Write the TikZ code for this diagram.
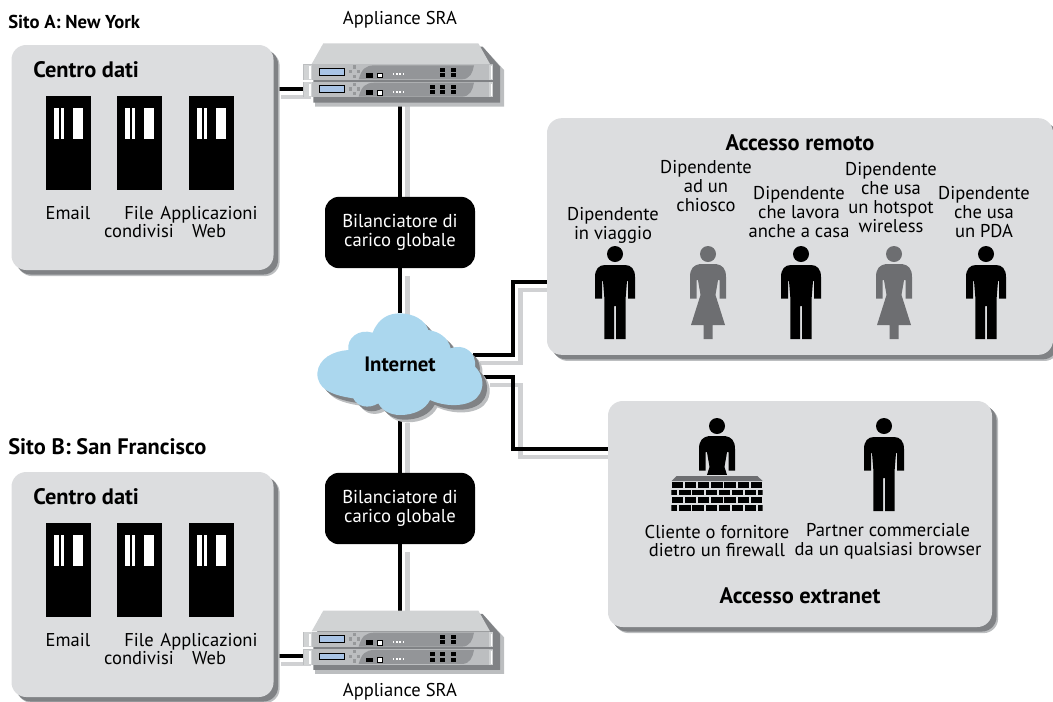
\documentclass[tikz,border=0pt]{standalone}
\usepackage{fontspec}
\setmainfont{PT Sans}
\usetikzlibrary{shadows}
\pgfdeclarelayer{bg}
\pgfsetlayers{bg,main}
\definecolor{panelgray}{HTML}{DCDDDF}
\definecolor{shadowgray}{HTML}{808285}
\definecolor{softgray}{HTML}{BCBEC0}
\definecolor{womangray}{HTML}{6D6E71}
\definecolor{cloudblue}{HTML}{ABD7EE}
\definecolor{lcdblue}{HTML}{A9C4E6}
\definecolor{unitgray}{HTML}{BCBEC0}
\definecolor{unitdark}{HTML}{939598}
\definecolor{topgray}{HTML}{D1D3D4}
\tikzset{
  softshadow/.style={general shadow={shadow xshift=4.6pt,shadow yshift=-4.6pt,fill=softgray},
    general shadow={shadow xshift=3.4pt,shadow yshift=-3.4pt,fill=shadowgray}},
  panel/.style={fill=panelgray,rounded corners=11pt,softshadow,inner sep=0pt},
  rack/.style={fill=black,minimum width=33.75pt,minimum height=70.5pt,inner sep=0pt},
  balancer/.style={fill=black,text=white,rounded corners=10.5pt,minimum width=112.5pt,minimum height=53.5pt,inner sep=0pt,align=center,font=\fontsize{14}{14.6}\selectfont},
  label/.style={align=center,inner sep=0pt,font=\fontsize{13.9}{14.1}\selectfont},
  heading/.style={inner sep=0pt,font=\fontsize{16.8}{18}\selectfont\bfseries},
  sitehead/.style={inner sep=0pt,anchor=west,font=\fontsize{14}{16}\selectfont\bfseries},
  ghost/.style={inner sep=0pt},
  wire/.style={draw=black,line width=2.6pt,line join=miter},
  wireshadow/.style={draw=softgray,line width=3.6pt,line join=miter,opacity=.7},
}
\newcommand{\rackbars}[2]{%
  \fill[white] (#1+8,#2+12) rectangle +(5.2,31);
  \fill[white] (#1+14.6,#2+12) rectangle +(3.6,31);
  \fill[white] (#1+27,#2+12) rectangle +(10,31);
}
\newcommand{\personman}[3]{%
  \begin{scope}[shift={(#1,#2)}]
    \fill[#3] (0,-11) circle[radius=6pt];
    \fill[#3] (-10,0) .. controls (-16,0) and (-20,4) .. (-20,12) -- (-20,33.5) -- (-13,33.5) -- (-13,16) -- (-12,16) -- (-10.6,33.5) -- (-10.6,74) -- (-1,74) -- (-1,41) -- (1,41) -- (1,74) -- (10.6,74) -- (10.6,33.5) -- (12,16) -- (13,16) -- (13,33.5) -- (20,33.5) -- (20,12) .. controls (20,4) and (16,0) .. (10,0) -- cycle;
  \end{scope}}
\newcommand{\personwoman}[3]{%
  \begin{scope}[shift={(#1,#2)}]
    \fill[#3] (0,-11) circle[radius=6pt];
    \fill[#3] (-8,-1) .. controls (-14,0) and (-18,3) .. (-18,12) -- (-18,33.5) -- (-11.5,33.5) -- (-11.5,15) -- (-10,15) .. controls (-9,22) and (-8,26) .. (-7.5,30) -- (-17,60) -- (-4.5,60) -- (-4.5,74) -- (4.5,74) -- (4.5,60) -- (17,60) -- (7.5,30) .. controls (8,26) and (9,22) .. (10,15) -- (11.5,15) -- (11.5,33.5) -- (18,33.5) -- (18,12) .. controls (18,3) and (14,0) .. (8,-1) -- cycle;
  \end{scope}}
\newcommand{\unitface}[2]{% y offset in zoom px, #2 = port x positions list
  \fill[unitgray] (70,#1) rectangle (640,#1+47);
  \fill[topgray] (72,#1+2) rectangle (96,#1+47);
  \fill[white] (88,#1+6) rectangle (93,#1+44);
  \fill[topgray] (628,#1+2) rectangle (640,#1+47);
  \fill[white] (632,#1+6) rectangle (635,#1+44);
  \fill[unitdark] (236,#1+45) .. controls (245,#1+15) and (255,#1+3) .. (285,#1+3) -- (582,#1+3) .. controls (578,#1+25) and (570,#1+45) .. (545,#1+45) -- cycle;
  \fill[black] (118,#1+11) rectangle (195,#1+34);
  \fill[lcdblue] (121,#1+14) rectangle (192,#1+31);
  \foreach \dx/\dy in {218/8,206/22,230/22,218/36}{\fill[softgray!80!black] (\dx,#1+\dy-5) rectangle +(10,10);}
  \fill[black] (259,#1+26) rectangle +(19,14);
  \fill[white] (291,#1+26) rectangle +(17,14);
  \draw[black,line width=.5pt] (291,#1+26) rectangle +(17,14);
  \foreach \dx in {#2}{\fill[black] (\dx,#1+10) rectangle +(16,12);\fill[black] (\dx,#1+26) rectangle +(16,12);}
  \foreach \dx in {338,348,358,368}{\fill[white] (\dx,#1+27) rectangle +(5,6);}
}
\newcommand{\rappliance}[1]{%
  \begin{scope}[shift={(280,#1)},x=.25pt,y=-.25pt]
    \fill[softgray] (130,85) -- (612,85) -- (672,150) -- (672,260) -- (105,260) -- (105,180) -- cycle;
    \fill[shadowgray] (125,80) -- (608,80) -- (660,140) -- (660,248) -- (100,248) -- (100,180) -- cycle;
    \fill[topgray] (130,70) -- (595,70) -- (630,132) -- (95,132) -- cycle;
    \unitface{133}{480,512}
    \unitface{185}{450,480,512}
  \end{scope}}
\newcommand{\cloudpath}{(160,385) .. controls (90,375) and (52,355) .. (52,310) .. controls (55,265) and (100,243) .. (145,240) .. controls (140,205) and (175,175) .. (218,188) .. controls (235,145) and (265,130) .. (300,130) .. controls (340,130) and (375,150) .. (385,180) .. controls (420,185) and (445,205) .. (452,235) .. controls (490,220) and (530,245) .. (525,290) .. controls (545,310) and (555,340) .. (540,370) .. controls (520,410) and (445,415) .. (390,390) .. controls (375,420) and (340,435) .. (300,435) .. controls (270,435) and (245,420) .. (235,400) .. controls (205,418) and (172,410) .. (160,385) -- cycle}
\begin{document}
\begin{tikzpicture}[x=.75pt,y=-.75pt]
\useasboundingbox (0,0) rectangle (1053,701);
\clip (0,0) rectangle (1053,701);

% panels
\node[panel,minimum width=196.5pt,minimum height=168.75pt] (dcA) at (142.5,157.5) {};
\node[panel,minimum width=196.5pt,minimum height=168.75pt] (dcB) at (142.5,584.5) {};
\node[panel,minimum width=379.5pt,minimum height=177.5pt] (remote) at (800,236.5) {};
\node[panel,minimum width=288pt,minimum height=169.5pt] (extranet) at (800,514) {};

% site A
\node[sitehead] (siteA) at (8,22) {Sito A: New York};
\node[heading,anchor=west] (dcAtitle) at (33,70) {Centro dati};
\node[rack] (rA1) at (68.5,143) {};
\node[rack] (rA2) at (139.5,143) {};
\node[rack] (rA3) at (211.5,143) {};
\rackbars{46}{96}\rackbars{117}{96}\rackbars{189}{96}
\node[label] (lA1) at (68,213) {Email};
\node[label] (lA2) at (139,222) {File\\condivisi};
\node[label] (lA3) at (209,222) {Applicazioni\\Web};

% site B
\node[sitehead,font=\fontsize{16.8}{18}\selectfont\bfseries] (siteB) at (8,447) {Sito B: San Francisco};
\node[heading,anchor=west] (dcBtitle) at (33,497) {Centro dati};
\node[rack] (rB1) at (68.5,570) {};
\node[rack] (rB2) at (139.5,570) {};
\node[rack] (rB3) at (211.5,570) {};
\rackbars{46}{523}\rackbars{117}{523}\rackbars{189}{523}
\node[label] (lB1) at (68,640) {Email};
\node[label] (lB2) at (139,649) {File\\condivisi};
\node[label] (lB3) at (209,649) {Applicazioni\\Web};

% appliances
\node[label] (appAlabel) at (400,20) {Appliance SRA};
\rappliance{20}
\node[ghost,minimum width=142pt,minimum height=40pt] (appA) at (400,70) {};
\node[label] (appBlabel) at (400,692) {Appliance SRA};
\rappliance{587.3}
\node[ghost,minimum width=142pt,minimum height=40pt] (appB) at (400,637) {};
\coordinate (portA) at (274,89);
\coordinate (portAr) at (304,89);
\coordinate (portB) at (274,656);
\coordinate (portBr) at (304,656);
\coordinate (appAout) at (400,97);
\coordinate (appBout) at (400,611);

% balancers
\node[balancer] (lbA) at (400,232.5) {Bilanciatore di\\carico globale};
\node[balancer] (lbB) at (400,508.5) {Bilanciatore di\\carico globale};

% cloud
\begin{scope}[shift={(300,270)},x=.25pt,y=-.25pt]
  \fill[softgray,shift={(22,22)}] \cloudpath;
  \fill[shadowgray,shift={(14,14)}] \cloudpath;
  \fill[cloudblue] \cloudpath;
\end{scope}
\node[ghost,minimum width=124pt,minimum height=76pt,font=\fontsize{15.6}{17}\selectfont\bfseries] (cloud) at (400,364) {Internet};
\coordinate (cloudR1) at (473,355);
\coordinate (cloudR2) at (483,377);
\coordinate (remoteIn) at (547,282);
\coordinate (extraIn) at (608,449);
\coordinate (bendR1) at (513,355);
\coordinate (bendR1b) at (513,282);
\coordinate (bendR2) at (513,377);
\coordinate (bendR2b) at (513,449);

% remote access
\node[heading] (remtitle) at (800,143) {Accesso remoto};
\node[label] (r1) at (613,225) {Dipendente\\in viaggio};
\node[label] (r2) at (706,186) {Dipendente\\ad un\\chiosco};
\node[label] (r3) at (799,212) {Dipendente\\che lavora\\anche a casa};
\node[label] (r4) at (891,197.5) {Dipendente\\che usa\\un hotspot\\wireless};
\node[label] (r5) at (984,212) {Dipendente\\che usa\\un PDA};
\personman{615}{265}{black}
\personwoman{708}{265}{womangray}
\personman{801}{265}{black}
\personwoman{894}{265}{womangray}
\personman{986}{265}{black}

% extranet
\personman{884}{437}{black}
\personwoman{717}{437}{black}
\begin{scope}[shift={(620,420)},x=.25pt,y=-.25pt]
  \fill[panelgray] (150,165) rectangle (432,275);
  \fill[womangray] (155,183) -- (170,168) -- (412,168) -- (428,183) -- cycle;
  \clip (154,184) rectangle (428,273);
  \foreach \ry in {186,232}{\foreach \k in {0,...,6}{\fill[black] (155+39.5*\k,\ry) rectangle +(34,17);}}
  \foreach \ry in {209,255}{\foreach \k in {0,...,7}{\fill[black] (138+39.5*\k,\ry) rectangle +(34,17);}}
\end{scope}
\node[label] (e1) at (717,541) {Cliente o fornitore\\dietro un firewall};
\node[label] (e2) at (888,541) {Partner commerciale\\da un qualsiasi browser};
\node[heading] (extitle) at (800,596) {Accesso extranet};

% connectors
\begin{pgfonlayer}{bg}
  \begin{scope}[transform canvas={xshift=5.5pt,yshift=-6pt}]
    \draw[wireshadow] (portA) -- (portAr);
    \draw[wireshadow] (portB) -- (portBr);
    \draw[wireshadow] (appAout) -- (lbA.north);
    \draw[wireshadow] (lbA.south) -- (cloud.north);
    \draw[wireshadow] (cloud.south) -- (lbB.north);
    \draw[wireshadow] (lbB.south) -- (appBout);
    \draw[wireshadow] (cloudR1) -- (bendR1) -- (bendR1b) -- (remoteIn);
    \draw[wireshadow] (cloudR2) -- (bendR2) -- (bendR2b) -- (extraIn);
  \end{scope}
  \draw[wire] (portA) -- (portAr);
  \draw[wire] (portB) -- (portBr);
  \draw[wire] (appAout) -- (lbA.north);
  \draw[wire] (lbA.south) -- (cloud.north);
  \draw[wire] (cloud.south) -- (lbB.north);
  \draw[wire] (lbB.south) -- (appBout);
  \draw[wire] (cloudR1) -- (bendR1) -- (bendR1b) -- (remoteIn);
  \draw[wire] (cloudR2) -- (bendR2) -- (bendR2b) -- (extraIn);
\end{pgfonlayer}
\end{tikzpicture}
\end{document}
